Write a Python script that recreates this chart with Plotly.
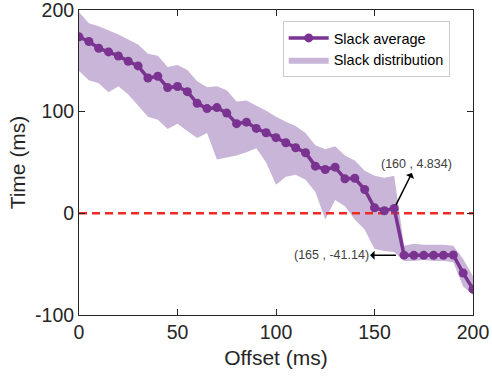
import plotly.graph_objects as go

offset_ms = list(range(0, 205, 5))
slack_avg = [173.6, 169, 162.4, 158.8, 154.8, 149.6, 145, 133.1, 134.8, 123.7,
             124.7, 119.7, 108.2, 103, 104, 98.6, 88.2, 89.7, 83.5, 79.3,
             74.4, 69.4, 64.5, 59.6, 46.4, 43.1, 45.4, 33.9, 34.5, 23.4,
             5.5, 2.5, 4.834, -41.14, -41.3, -41.3, -41.3, -41.2, -41, -58.8, -74.6]
slack_upper = [198, 187, 184, 180, 176, 171, 166, 157, 155, 144,
               146, 141, 130, 124, 125, 121, 110, 111, 106, 101,
               95, 90, 86, 79, 67, 63, 66, 57, 52, 42,
               37, 35, 37, -32, -30, -31, -31, -31, -32, -45, -62]
slack_lower = [140, 131, 128, 119, 125, 117, 106, 95, 92, 83,
               88, 81, 74, 79, 53, 55, 57, 60, 64, 50,
               28, 36, 38, 33, 21, -6, 13, 7, -6, -16,
               -35, -37, -38, -47, -47, -46, -47, -47, -48, -72, -80]
threshold = 0
x_ticks = [0, 50, 100, 150, 200]
y_ticks = [-100, 0, 100, 200]
y_tick_labels = ["-100", "0", "100", "200"]

PURPLE = "#7A3390"
BAND = "#C9B5D7"
FONT = "Liberation Sans, Arial, sans-serif"
TXT = "#262626"

fig = go.Figure()
fig.add_trace(go.Scatter(
    x=offset_ms + offset_ms[::-1],
    y=slack_upper + slack_lower[::-1],
    fill="toself", fillcolor=BAND, line=dict(width=0, color=BAND),
    mode="lines", name="Slack distribution", legendrank=2, hoverinfo="skip"))
fig.add_trace(go.Scatter(
    x=[offset_ms[0], offset_ms[-1]], y=[threshold, threshold],
    mode="lines", line=dict(color="#EE2A24", width=2.5, dash="8px,5px"),
    showlegend=False))
fig.add_trace(go.Scatter(
    x=offset_ms, y=slack_avg, mode="lines+markers", name="Slack average",
    line=dict(color=PURPLE, width=3.5), marker=dict(color=PURPLE, size=9),
    legendrank=1))

i1 = offset_ms.index(160)
i2 = offset_ms.index(165)
fig.add_annotation(x=offset_ms[i1], y=slack_avg[i1],
                   text=f"({offset_ms[i1]} , {slack_avg[i1]})",
                   ax=22, ay=-44, showarrow=True, arrowside="start",
                   arrowhead=2, arrowsize=1, arrowwidth=1.5, arrowcolor="black",
                   standoff=4, font=dict(family=FONT, size=12.5, color="#404040"))
fig.add_annotation(x=offset_ms[i2], y=slack_avg[i2],
                   text=f"({offset_ms[i2]} , {slack_avg[i2]})",
                   ax=-73, ay=0, showarrow=True, arrowside="start",
                   arrowhead=2, arrowsize=1, arrowwidth=1.5, arrowcolor="black",
                   standoff=8, font=dict(family=FONT, size=12.5, color="#404040"))

axis_common = dict(showline=True, linecolor=TXT, linewidth=1, mirror="ticks",
                   ticks="inside", ticklen=6, tickcolor=TXT, showgrid=False,
                   zeroline=False, automargin=False, ticklabeloverflow="allow",
                   tickfont=dict(family=FONT, size=19.5, color=TXT))
fig.update_xaxes(range=[0, 200], tickvals=x_ticks,
                 title=dict(text="Offset (ms)", font=dict(family=FONT, size=21, color=TXT), standoff=7),
                 **axis_common)
fig.update_yaxes(range=[-100, 200], tickvals=y_ticks, ticktext=y_tick_labels,
                 title=dict(text="Time (ms)", font=dict(family=FONT, size=21, color=TXT), standoff=3),
                 **axis_common)

fig.update_layout(
    width=492, height=377,
    margin=dict(l=79, r=19, t=10, b=62),
    plot_bgcolor="white", paper_bgcolor="white",
    font=dict(family=FONT, color=TXT),
    legend=dict(x=0.517, y=0.964, xanchor="left", yanchor="top",
                bgcolor="white", bordercolor="#CCCCCC", borderwidth=1,
                font=dict(family=FONT, size=14.5, color="black"),
                itemwidth=40, tracegroupgap=4),
    showlegend=True,
)
fig.write_html("out.html", config={"displayModeBar": False},
               post_script="document.body.style.margin='0';document.body.style.padding='0';")
